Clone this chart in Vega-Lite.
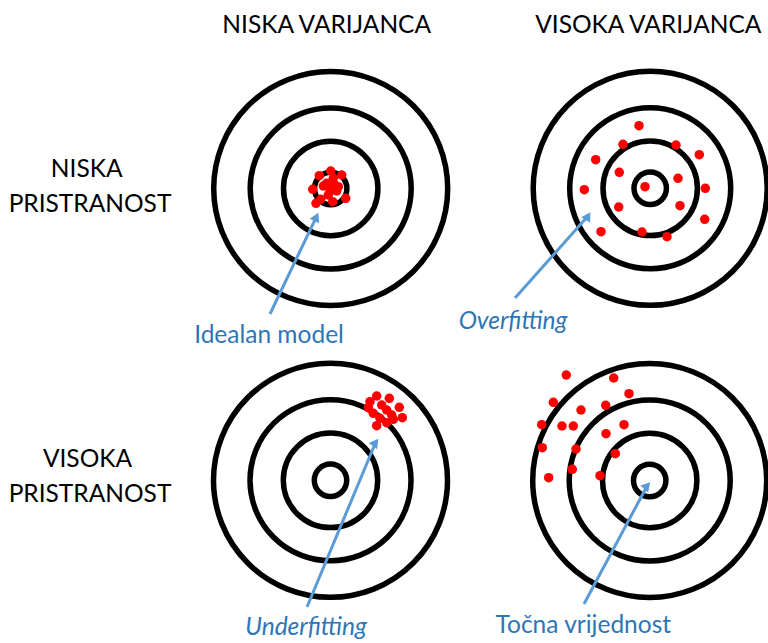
{
  "$schema": "https://vega.github.io/schema/vega-lite/v6.json",
  "width": 768,
  "height": 643,
  "autosize": {"type": "none"},
  "padding": 0,
  "background": "white",
  "config": {"view": {"stroke": null}},
  "datasets": {
    "centers": [
      {"target": "NV-NP", "x": 330.7, "y": 188.5},
      {"target": "VV-NP", "x": 650.2, "y": 188.3},
      {"target": "NV-VP", "x": 330.5, "y": 480.3},
      {"target": "VV-VP", "x": 649.7, "y": 480.5}
    ],
    "dots": [
      {"target": "NV-NP", "x": 330.7, "y": 171},
      {"target": "NV-NP", "x": 319.3, "y": 175.7},
      {"target": "NV-NP", "x": 341.7, "y": 175},
      {"target": "NV-NP", "x": 333.3, "y": 178.3},
      {"target": "NV-NP", "x": 326.7, "y": 183.3},
      {"target": "NV-NP", "x": 323.3, "y": 186},
      {"target": "NV-NP", "x": 335, "y": 185},
      {"target": "NV-NP", "x": 312.7, "y": 189.3},
      {"target": "NV-NP", "x": 330, "y": 190},
      {"target": "NV-NP", "x": 336.7, "y": 191},
      {"target": "NV-NP", "x": 328.3, "y": 195},
      {"target": "NV-NP", "x": 345.7, "y": 198.3},
      {"target": "NV-NP", "x": 320.7, "y": 199.3},
      {"target": "NV-NP", "x": 332.7, "y": 201.7},
      {"target": "NV-NP", "x": 316, "y": 203.3},
      {"target": "NV-NP", "x": 338.3, "y": 186.7},
      {"target": "VV-NP", "x": 639, "y": 125.7},
      {"target": "VV-NP", "x": 623, "y": 144.3},
      {"target": "VV-NP", "x": 676, "y": 145},
      {"target": "VV-NP", "x": 699.3, "y": 154.7},
      {"target": "VV-NP", "x": 595.7, "y": 159.7},
      {"target": "VV-NP", "x": 619.3, "y": 172.3},
      {"target": "VV-NP", "x": 678, "y": 178.3},
      {"target": "VV-NP", "x": 645, "y": 186.7},
      {"target": "VV-NP", "x": 584.3, "y": 189.7},
      {"target": "VV-NP", "x": 705.3, "y": 188.3},
      {"target": "VV-NP", "x": 618.7, "y": 207},
      {"target": "VV-NP", "x": 680, "y": 205.7},
      {"target": "VV-NP", "x": 704.7, "y": 219.3},
      {"target": "VV-NP", "x": 601, "y": 231.7},
      {"target": "VV-NP", "x": 642, "y": 232},
      {"target": "VV-NP", "x": 667, "y": 236.7},
      {"target": "NV-VP", "x": 376.7, "y": 396},
      {"target": "NV-VP", "x": 370, "y": 401.7},
      {"target": "NV-VP", "x": 389.3, "y": 398.3},
      {"target": "NV-VP", "x": 381.7, "y": 405},
      {"target": "NV-VP", "x": 368.3, "y": 407.7},
      {"target": "NV-VP", "x": 386.7, "y": 410},
      {"target": "NV-VP", "x": 399.3, "y": 407.3},
      {"target": "NV-VP", "x": 373.3, "y": 413.3},
      {"target": "NV-VP", "x": 391.7, "y": 415},
      {"target": "NV-VP", "x": 380, "y": 418.3},
      {"target": "NV-VP", "x": 402.3, "y": 417.7},
      {"target": "NV-VP", "x": 393.3, "y": 419.3},
      {"target": "NV-VP", "x": 376.7, "y": 425.7},
      {"target": "NV-VP", "x": 386.7, "y": 422.7},
      {"target": "VV-VP", "x": 566.3, "y": 375},
      {"target": "VV-VP", "x": 613.7, "y": 378},
      {"target": "VV-VP", "x": 629, "y": 393.7},
      {"target": "VV-VP", "x": 553.3, "y": 402.3},
      {"target": "VV-VP", "x": 581, "y": 410},
      {"target": "VV-VP", "x": 605.7, "y": 405.3},
      {"target": "VV-VP", "x": 541.7, "y": 424.7},
      {"target": "VV-VP", "x": 562, "y": 426},
      {"target": "VV-VP", "x": 573.3, "y": 426},
      {"target": "VV-VP", "x": 624, "y": 424.7},
      {"target": "VV-VP", "x": 606, "y": 433.7},
      {"target": "VV-VP", "x": 542.3, "y": 447.7},
      {"target": "VV-VP", "x": 576, "y": 449},
      {"target": "VV-VP", "x": 615.3, "y": 453.7},
      {"target": "VV-VP", "x": 572.3, "y": 469.3},
      {"target": "VV-VP", "x": 600, "y": 475.7},
      {"target": "VV-VP", "x": 548.7, "y": 477.7}
    ],
    "arrows": [
      {"arrow": 1, "x": 270, "y": 314, "x2": 316.4, "y2": 216.8},
      {"arrow": 2, "x": 515, "y": 298, "x2": 588, "y2": 216.1},
      {"arrow": 3, "x": 307, "y": 607, "x2": 375.6, "y2": 442.5},
      {"arrow": 4, "x": 584, "y": 604, "x2": 647.2, "y2": 485.7}
    ],
    "headers": [
      {"label": "NISKA VARIJANCA", "x": 326.7, "y": 33.3},
      {"label": "VISOKA VARIJANCA", "x": 648.3, "y": 33.3},
      {"label": "NISKA", "x": 86.7, "y": 176.7},
      {"label": "PRISTRANOST", "x": 90, "y": 211.7},
      {"label": "VISOKA", "x": 87.5, "y": 466.7},
      {"label": "PRISTRANOST", "x": 90, "y": 501.7}
    ],
    "notes": [
      {"label": "Idealan model", "x": 269, "y": 343.3},
      {"label": "Točna vrijednost", "x": 583.3, "y": 633.3}
    ],
    "notesItalic": [
      {"label": "Overfitting", "x": 513, "y": 329.3},
      {"label": "Underfitting", "x": 306, "y": 635}
    ]
  },
  "layer": [
    {
      "data": {"name": "centers"},
      "mark": {"type": "point", "shape": "circle", "filled": false, "stroke": "black", "strokeWidth": 5.5, "opacity": 1, "size": 54756},
      "encoding": {
        "x": {"field": "x", "type": "quantitative", "scale": {"domain": [0, 768], "nice": false, "zero": false}, "axis": null},
        "y": {"field": "y", "type": "quantitative", "scale": {"domain": [0, 643], "nice": false, "zero": false, "reverse": true}, "axis": null}
      }
    },
    {
      "data": {"name": "centers"},
      "mark": {"type": "point", "shape": "circle", "filled": false, "stroke": "black", "strokeWidth": 5.5, "opacity": 1, "size": 25921},
      "encoding": {
        "x": {"field": "x", "type": "quantitative"},
        "y": {"field": "y", "type": "quantitative"}
      }
    },
    {
      "data": {"name": "centers"},
      "mark": {"type": "point", "shape": "circle", "filled": false, "stroke": "black", "strokeWidth": 5.5, "opacity": 1, "size": 8911},
      "encoding": {
        "x": {"field": "x", "type": "quantitative"},
        "y": {"field": "y", "type": "quantitative"}
      }
    },
    {
      "data": {"name": "centers"},
      "mark": {"type": "point", "shape": "circle", "filled": false, "stroke": "black", "strokeWidth": 5.5, "opacity": 1, "size": 1050},
      "encoding": {
        "x": {"field": "x", "type": "quantitative"},
        "y": {"field": "y", "type": "quantitative"}
      }
    },
    {
      "data": {"name": "arrows"},
      "mark": {"type": "rule", "color": "#5B9BD5", "strokeWidth": 3},
      "encoding": {
        "x": {"field": "x", "type": "quantitative"},
        "y": {"field": "y", "type": "quantitative"},
        "x2": {"field": "x2"},
        "y2": {"field": "y2"}
      }
    },
    {
      "data": {"name": "arrows"},
      "mark": {"type": "point", "shape": "triangle-up", "filled": true, "color": "#5B9BD5", "size": 110, "opacity": 1},
      "encoding": {
        "x": {"field": "x2", "type": "quantitative"},
        "y": {"field": "y2", "type": "quantitative"},
        "angle": {"field": "arrow", "type": "ordinal", "scale": {"domain": [1, 2, 3, 4], "range": [25.5, 41.7, 22.6, 28.1]}, "legend": null}
      }
    },
    {
      "data": {"name": "dots"},
      "mark": {"type": "circle", "color": "#FF0000", "size": 90, "opacity": 1},
      "encoding": {
        "x": {"field": "x", "type": "quantitative"},
        "y": {"field": "y", "type": "quantitative"}
      }
    },
    {
      "data": {"name": "headers"},
      "mark": {"type": "text", "font": "Lato", "fontSize": 24.5, "color": "#000000", "align": "center", "baseline": "alphabetic"},
      "encoding": {
        "x": {"field": "x", "type": "quantitative"},
        "y": {"field": "y", "type": "quantitative"},
        "text": {"field": "label"}
      }
    },
    {
      "data": {"name": "notes"},
      "mark": {"type": "text", "font": "Lato", "fontSize": 24.5, "color": "#2E75B6", "align": "center", "baseline": "alphabetic"},
      "encoding": {
        "x": {"field": "x", "type": "quantitative"},
        "y": {"field": "y", "type": "quantitative"},
        "text": {"field": "label"}
      }
    },
    {
      "data": {"name": "notesItalic"},
      "mark": {"type": "text", "font": "Lato", "fontSize": 24.5, "fontStyle": "italic", "color": "#2E75B6", "align": "center", "baseline": "alphabetic"},
      "encoding": {
        "x": {"field": "x", "type": "quantitative"},
        "y": {"field": "y", "type": "quantitative"},
        "text": {"field": "label"}
      }
    }
  ]
}
